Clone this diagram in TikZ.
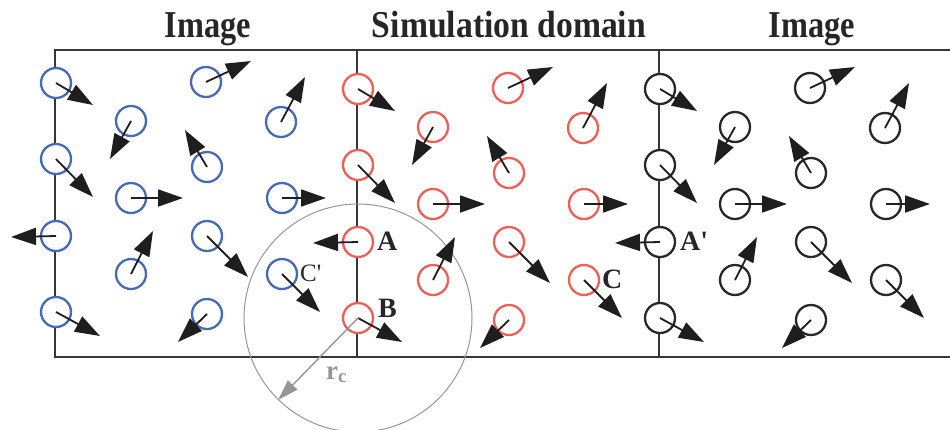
\documentclass[tikz,border=0pt]{standalone}
\usepackage{fontspec}
\setmainfont{Liberation Serif}
\usetikzlibrary{arrows.meta}
\definecolor{framegray}{RGB}{55,55,55}
\definecolor{arrowink}{RGB}{30,30,30}
\definecolor{imgblue}{RGB}{70,105,185}
\definecolor{simred}{RGB}{238,95,85}
\definecolor{imgblack}{RGB}{40,40,40}
\definecolor{cutgray}{RGB}{150,150,150}
\begin{document}
\begin{tikzpicture}[x=1pt,y=-1pt,
  particle/.style={circle,draw=#1,line width=2.3pt,fill=white,minimum size=30pt,inner sep=0pt},
  velocity/.style={draw=arrowink,line width=1.8pt,-{Triangle[length=25pt,width=17pt]}},
  title/.style={anchor=base,inner sep=0pt,font=\bfseries\fontsize{33}{36}\selectfont,text=black!85},
  tag/.style={anchor=base west,inner sep=0pt,font=\bfseries\fontsize{28}{30}\selectfont,text=black!85},
  frameline/.style={draw=framegray,line width=2.2pt}]
\useasboundingbox (0,0) rectangle (950,429);
\clip (0,0) rectangle (950,429);

% cell frame: open towards the right
\draw[frameline] (950,50) -- (55,50) -- (55,357) -- (950,357);
\draw[frameline] (357,50) -- (357,357);
\draw[frameline] (659,50) -- (659,357);

% cut-off sphere around particle B
\draw[cutgray,line width=1pt] (358,318) circle[radius=114];

% titles
\node[title] (t1) at (208,37) {\scalebox{0.98}[1.15]{Image}};
\node[title] (t2) at (509,37) {\scalebox{1.02}[1.15]{Simulation domain}};
\node[title] (t3) at (812,37) {\scalebox{0.98}[1.15]{Image}};

% particles: position / velocity tip, repeated in the two image cells
\def\particles{358/89/395/111, 433/127/412/165, 508/88/553/67, 583/128/607/83,
  358/165/395/203, 509/173/487/136, 433/204/485/204, 584/204/628/204,
  358/242/313/243, 509/242/550/283, 433/280/455/237, 584/280/622/318,
  358/318/402/342, 509/320/480/348}

\foreach \dx/\dy/\col/\cell in {-302/-6/imgblue/L, 0/0/simred/S, 302/0/imgblack/R}{
  \begin{scope}[shift={(\dx,\dy)}]
    \foreach \px/\py/\vx/\vy [count=\k] in \particles {
      \node[particle=\col] (\cell\k) at (\px,\py) {};
      \coordinate (\cell v\k) at (\vx,\vy);
    }
  \end{scope}
}
\foreach \cell in {L,S,R}{
  \foreach \k in {1,...,14}{
    \draw[velocity] (\cell\k.center) -- (\cell v\k);
  }
}

% labels
\node[tag] (la) at (377,250) {A};
\node[tag] (lb) at (378,317) {B};
\node[tag] (lc) at (602,288) {C};
\node[tag] (lap) at (680,250) {A\textquotesingle};
\node[tag,font=\fontsize{25}{27}\selectfont] (lcp) at (300,281) {C\textquotesingle};

% cut-off radius
\coordinate (rc) at (278,400);
\draw[cutgray,line width=1.4pt,-{Triangle[length=21pt,width=13pt]}] (S13.center) -- (rc);
\node[anchor=base west,inner sep=0pt,text=cutgray,font=\bfseries\fontsize{27}{28}\selectfont] (lrc) at (326,379) {r\textsubscript{c}};
\end{tikzpicture}
\end{document}
